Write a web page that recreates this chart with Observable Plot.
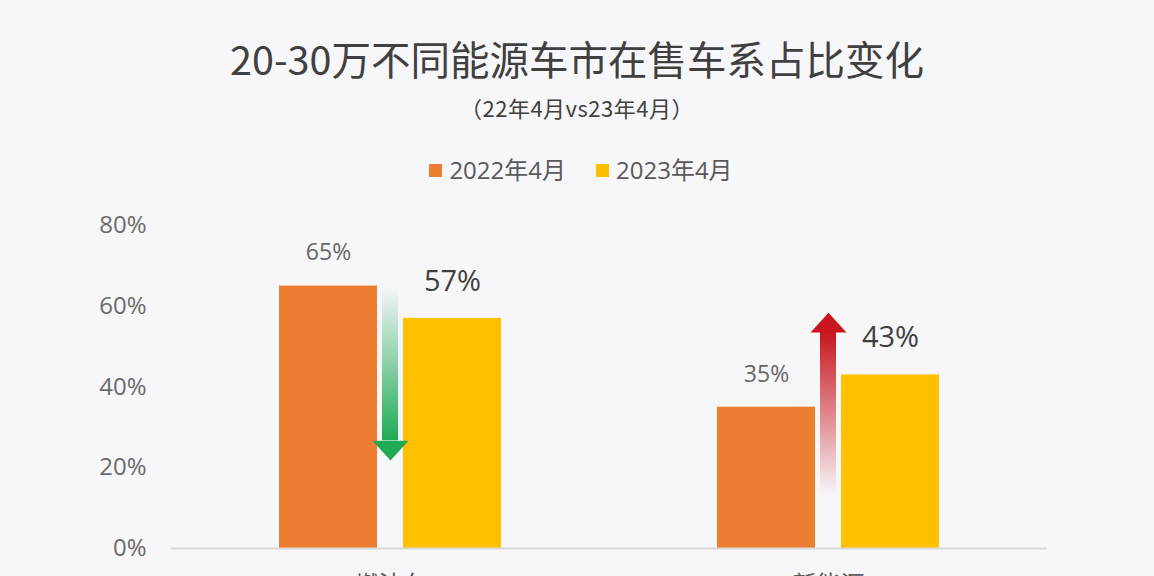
<!DOCTYPE html>
<html>
<head>
<meta charset="utf-8">
<script src="https://cdn.jsdelivr.net/npm/d3@7"></script>
<script src="https://cdn.jsdelivr.net/npm/@observablehq/plot@0.6"></script>
<style>
  html, body { margin: 0; padding: 0; background: #f7f7fa; overflow: hidden; }
  body { width: 1154px; height: 576px; font-family: "Open Sans", "Noto Sans CJK SC", sans-serif; }
  #header { position: relative; height: 200px; }
  #title { position: absolute; left: 0; right: 0; top: 37px; text-align: center; font-size: 39.5px; line-height: 42px; color: #404040; font-family: "Noto Sans CJK SC", sans-serif; }
  #subtitle { position: absolute; left: 0; right: 0; top: 96px; text-align: center; font-size: 22px; line-height: 22px; letter-spacing: 0.5px; color: #404040; font-family: "Noto Sans CJK SC", sans-serif; }
  #legend { position: absolute; left: 8px; right: 0; top: 158px; display: flex; justify-content: center; gap: 30px; font-size: 24px; line-height: 24px; color: #595959; }
  .item { display: flex; align-items: center; gap: 7px; }
  .sw { width: 13px; height: 13px; display: inline-block; }
</style>
</head>
<body>
<div id="header">
  <div id="title">20-30万不同能源车市在售车系占比变化</div>
  <div id="subtitle">（22年4月vs23年4月）</div>
  <div id="legend"></div>
</div>
<div id="chart"></div>
<script>
const categories = ["燃油车", "新能源"];
const seriesNames = ["2022年4月", "2023年4月"];
const seriesColors = ["#ED7D31", "#FFC000"];
const values2022 = [0.65, 0.35];
const values2023 = [0.57, 0.43];
const yTicks = [0, 0.2, 0.4, 0.6, 0.8];
// decorative change arrows (start and head values, in share units)
const arrowFrom = [0.65, 0.13];
const arrowTo = [0.267, 0.535];

const rows = categories.flatMap((c, i) => [
  {category: c, series: seriesNames[0], value: values2022[i]},
  {category: c, series: seriesNames[1], value: values2023[i]}
]);
const arrows = categories.map((c, i) => ({category: c, from: arrowFrom[i], to: arrowTo[i]}));
const pct = d3.format(".0%");

// legend
const legend = document.getElementById("legend");
seriesNames.forEach((s, i) => {
  const it = document.createElement("div");
  it.className = "item";
  it.innerHTML = `<span class="sw" style="background:${seriesColors[i]}"></span><span>${s}</span>`;
  legend.appendChild(it);
});

const headSymbol = {
  draw(context, size) {
    const r = Math.sqrt(size / Math.PI);
    context.moveTo(-r, 0);
    context.lineTo(r, 0);
    context.lineTo(0, -r * 1.1);
    context.closePath();
  }
};

const chart = Plot.plot({
  width: 1154,
  height: 400,
  marginTop: 25,
  marginBottom: 52,
  marginLeft: 170,
  marginRight: 107,
  style: {background: "transparent", fontFamily: "'Open Sans','Noto Sans CJK SC',sans-serif", overflow: "visible"},
  fx: {domain: categories, padding: 0, label: null},
  x: {domain: seriesNames, paddingInner: 0.208, paddingOuter: 0.858, axis: null},
  y: {domain: [0, 0.8], label: null},
  color: {domain: seriesNames, range: seriesColors},
  marks: [
    Plot.axisY({ticks: yTicks, tickFormat: pct, tickSize: 0, tickPadding: 25, fontSize: 24, fill: "#6b6b6b", label: null}),
    Plot.axisFx({anchor: "bottom", tickSize: 0, tickPadding: 27, fontSize: 24, fill: "#595959", label: null, fontFamily: "'Noto Sans CJK SC',sans-serif"}),
    Plot.barY(rows, {fx: "category", x: "series", y: "value", fill: "series"}),
    Plot.ruleY([0], {stroke: "#d9d9d9", strokeWidth: 2}),
    Plot.text(rows.filter(d => d.series === seriesNames[0]), {fx: "category", x: "series", y: "value", text: d => pct(d.value), dy: -33, fontSize: 23, fill: "#666666"}),
    Plot.text(rows.filter(d => d.series === seriesNames[1]), {fx: "category", x: "series", y: "value", text: d => pct(d.value), dy: -37, fontSize: 29, fill: "#404040"}),
    Plot.rectY(arrows.filter((d, i) => i === 0), {fx: "category", y1: "from", y2: "to", insetLeft: 211, insetRight: 211, fill: "url(#gradGreen)"}),
    Plot.rectY(arrows.filter((d, i) => i === 1), {fx: "category", y1: "from", y2: "to", insetLeft: 211, insetRight: 211, fill: "url(#gradRed)"}),
    Plot.dot(arrows.filter((d, i) => i === 0), {fx: "category", y: "to", r: 18, symbol: headSymbol, rotate: 180, fill: "#1faa55", stroke: "none"}),
    Plot.dot(arrows.filter((d, i) => i === 1), {fx: "category", y: "to", r: 18, symbol: headSymbol, fill: "#c8161e", stroke: "none"})
  ]
});

const defs = d3.select(chart).insert("defs", ":first-child");
const g1 = defs.append("linearGradient").attr("id", "gradGreen").attr("x1", 0).attr("y1", 0).attr("x2", 0).attr("y2", 1);
g1.append("stop").attr("offset", "0%").attr("stop-color", "#1faa55").attr("stop-opacity", 0);
g1.append("stop").attr("offset", "100%").attr("stop-color", "#1faa55").attr("stop-opacity", 1);
const g2 = defs.append("linearGradient").attr("id", "gradRed").attr("x1", 0).attr("y1", 0).attr("x2", 0).attr("y2", 1);
g2.append("stop").attr("offset", "0%").attr("stop-color", "#c8161e").attr("stop-opacity", 1);
g2.append("stop").attr("offset", "100%").attr("stop-color", "#c8161e").attr("stop-opacity", 0);

document.getElementById("chart").appendChild(chart);
</script>
</body>
</html>
